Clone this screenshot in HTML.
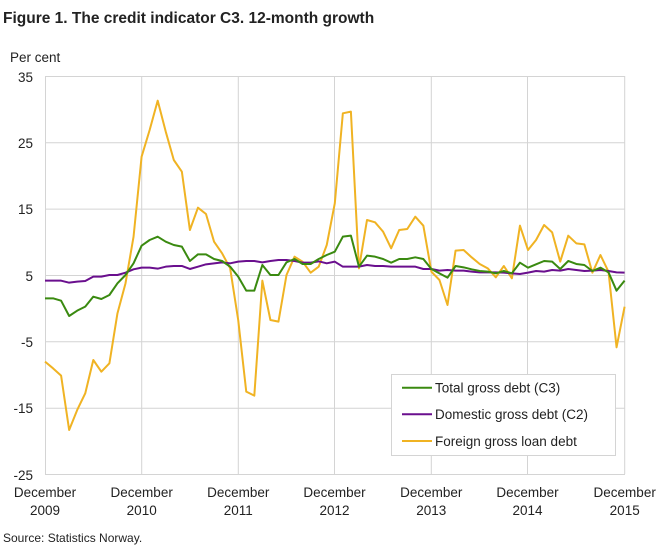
<!DOCTYPE html>
<html><head><meta charset="utf-8"><style>
body{margin:0;background:#fff;}
svg{display:block;font-family:"Liberation Sans",sans-serif;}
</style></head><body>
<svg width="669" height="549" viewBox="0 0 669 549">
<text x="3" y="23" font-size="15.5" font-weight="bold" fill="#222">Figure 1. The credit indicator  C3. 12-month growth</text>
<text x="10" y="62" font-size="13.5" fill="#222">Per cent</text>
<g stroke="#d4d4d4" stroke-width="1">
<line x1="45" y1="76.5" x2="625" y2="76.5"/><line x1="45" y1="142.8" x2="625" y2="142.8"/><line x1="45" y1="209.1" x2="625" y2="209.1"/><line x1="45" y1="275.5" x2="625" y2="275.5"/><line x1="45" y1="341.8" x2="625" y2="341.8"/><line x1="45" y1="408.2" x2="625" y2="408.2"/><line x1="45" y1="474.5" x2="625" y2="474.5"/>
<line x1="45.5" y1="76" x2="45.5" y2="474"/><line x1="141.7" y1="76" x2="141.7" y2="474"/><line x1="238.3" y1="76" x2="238.3" y2="474"/><line x1="334.5" y1="76" x2="334.5" y2="474"/><line x1="431.3" y1="76" x2="431.3" y2="474"/><line x1="527.5" y1="76" x2="527.5" y2="474"/><line x1="624.7" y1="76" x2="624.7" y2="474"/>
</g>
<g font-size="13.5" fill="#222" text-anchor="end">
<text x="33" y="82">35</text><text x="33" y="148">25</text><text x="33" y="214">15</text><text x="33" y="281">5</text><text x="33" y="347">-5</text><text x="33" y="413">-15</text><text x="33" y="480">-25</text>
</g>
<g font-size="13.5" fill="#222" text-anchor="middle">
<text x="45" y="497">December</text><text x="45" y="515">2009</text>
<text x="141.7" y="497">December</text><text x="141.7" y="515">2010</text>
<text x="238.3" y="497">December</text><text x="238.3" y="515">2011</text>
<text x="334.5" y="497">December</text><text x="334.5" y="515">2012</text>
<text x="431.3" y="497">December</text><text x="431.3" y="515">2013</text>
<text x="527.5" y="497">December</text><text x="527.5" y="515">2014</text>
<text x="624.7" y="497">December</text><text x="624.7" y="515">2015</text>
</g>
<g transform="translate(45,60) scale(8.05,0.33333)" fill="none" stroke-width="2" stroke-linejoin="round">
<polyline vector-effect="non-scaling-stroke" stroke="#f0b323" points="0,905 1,925 2,947 3,1110 4,1050 5,1000 6,900 7,935 8,910 9,760 10,670 11,530 12,290 13,210 14,122 15,215 16,300 17,335 18,510 19,443 20,462 21,545 22,580 23,625 24,780 25,995 26,1007 27,662 28,780 29,785 30,645 31,590 32,605 33,638 34,620 35,555 36,430 37,160 38,155 39,625 40,480 41,487 42,515 43,565 44,510 45,507 46,470 47,497 48,635 49,660 50,735 51,572 52,570 53,592 54,612 55,625 56,652 57,618 58,655 59,497 60,570 61,540 62,495 63,517 64,605 65,527 66,550 67,553 68,638 69,585 70,635 71,862 72,740"/>
<polyline vector-effect="non-scaling-stroke" stroke="#6a0f8e" points="0,662 1,662 2,662 3,668 4,665 5,663 6,650 7,650 8,645 9,645 10,638 11,628 12,623 13,623 14,626 15,620 16,618 17,618 18,627 19,620 20,613 21,610 22,607 23,610 24,605 25,603 26,603 27,607 28,603 29,600 30,600 31,603 32,608 33,608 34,604 35,610 36,605 37,620 38,620 39,620 40,615 41,618 42,618 43,620 44,620 45,620 46,620 47,627 48,627 49,632 50,630 51,632 52,632 53,635 54,637 55,637 56,637 57,638 58,640 59,642 60,638 61,633 62,635 63,630 64,632 65,627 66,630 67,633 68,632 69,630 70,633 71,637 72,638"/>
<polyline vector-effect="non-scaling-stroke" stroke="#3a8a10" points="0,715 1,715 2,722 3,768 4,752 5,740 6,710 7,717 8,705 9,670 10,645 11,610 12,557 13,540 14,530 15,545 16,555 17,560 18,603 19,583 20,583 21,597 22,603 23,620 24,650 25,692 26,692 27,615 28,645 29,645 30,607 31,597 32,612 33,612 34,597 35,585 36,575 37,530 38,527 39,620 40,587 41,590 42,597 43,608 44,597 45,597 46,592 47,597 48,627 49,640 50,653 51,618 52,622 53,628 54,633 55,635 56,640 57,633 58,640 59,608 60,623 61,613 62,603 63,605 64,627 65,603 66,612 67,615 68,633 69,623 70,637 71,692 72,662"/>
</g>
<rect x="391.5" y="374.5" width="224" height="81" fill="#fff" stroke="#d4d4d4"/>
<line x1="402" y1="387.7" x2="432" y2="387.7" stroke="#3a8a10" stroke-width="2"/>
<line x1="402" y1="414.3" x2="432" y2="414.3" stroke="#6a0f8e" stroke-width="2"/>
<line x1="402" y1="441" x2="432" y2="441" stroke="#f0b323" stroke-width="2"/>
<g font-size="13.5" fill="#222">
<text x="435" y="392.5">Total gross debt (C3)</text>
<text x="435" y="419">Domestic gross debt (C2)</text>
<text x="435" y="446">Foreign gross loan debt</text>
</g>
<text x="3" y="542" font-size="12" fill="#222">Source:  Statistics Norway.</text>
</svg>
</body></html>
